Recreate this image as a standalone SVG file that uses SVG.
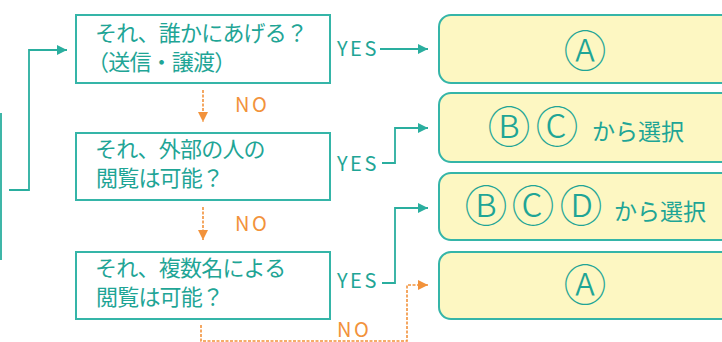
<svg xmlns="http://www.w3.org/2000/svg" width="722" height="342" viewBox="0 0 722 342">
<defs>
<style>
.q{fill:#ffffff;stroke:#35b5a8;stroke-width:2}
.r{fill:#fdf7c2;stroke:#35b5a8;stroke-width:2}
.t{font-family:"Noto Sans CJK JP","Noto Sans",sans-serif;font-size:22px;fill:#1fa596;letter-spacing:-0.8px}
.c{font-family:"Noto Sans CJK JP","DejaVu Sans",sans-serif;font-size:43px;font-weight:300;fill:#1fa596;text-anchor:middle}
.k{font-family:"Noto Sans CJK JP","Noto Sans",sans-serif;font-size:23px;fill:#1fa596}
.y{font-family:"Noto Sans CJK JP","Noto Sans",sans-serif;font-size:20px;fill:#1fa596;letter-spacing:2.5px}
.n{font-family:"Noto Sans CJK JP","Noto Sans",sans-serif;font-size:20px;fill:#f2923b;letter-spacing:2.5px}
.tl{fill:none;stroke:#2aae9f;stroke-width:1.8}
.ol{fill:none;stroke:#f2923b;stroke-width:1.6;stroke-dasharray:3 1.5}
</style>
<marker id="at" markerUnits="userSpaceOnUse" markerWidth="12" markerHeight="12" refX="10" refY="6" orient="auto">
<path d="M0,1 L10,6 L0,11 Z" fill="#2aae9f"/>
</marker>
<marker id="ao" markerUnits="userSpaceOnUse" markerWidth="12" markerHeight="12" refX="10" refY="6" orient="auto">
<path d="M0,1 L10,6 L0,11 Z" fill="#f2923b"/>
</marker>
</defs>
<rect width="722" height="342" fill="#ffffff"/>

<g id="connectors">
<path class="tl" d="M9 190 H29 V50 H67" marker-end="url(#at)"/>
<path class="tl" d="M1 113 V260"/>
<path class="tl" d="M380 49 H428" marker-end="url(#at)"/>
<path class="tl" d="M382 163 H395 V128 H428" marker-end="url(#at)"/>
<path class="tl" d="M382 283 H395 V208 H428" marker-end="url(#at)"/>
<path class="ol" d="M203 90 V122" marker-end="url(#ao)"/>
<path class="ol" d="M203 207 V240" marker-end="url(#ao)"/>
<path class="ol" d="M201 325 V341 H407 V285 H428" marker-end="url(#ao)"/>
<text class="y" x="337" y="56">YES</text>
<text class="y" x="337" y="171">YES</text>
<text class="y" x="337" y="288">YES</text>
<text class="n" x="235" y="112">NO</text>
<text class="n" x="235" y="231">NO</text>
<text class="n" x="337" y="337">NO</text>
</g>

<g id="q1">
<rect class="q" x="76" y="15" width="254" height="68"/>
<text class="t" x="95" y="41">それ、誰かにあげる？</text>
<text class="t" x="87" y="70">（送信・譲渡）</text>
</g>
<g id="q2">
<rect class="q" x="76" y="133" width="254" height="67"/>
<text class="t" x="95" y="157">それ、外部の人の</text>
<text class="t" x="96" y="186">閲覧は可能？</text>
</g>
<g id="q3">
<rect class="q" x="76" y="252" width="254" height="67"/>
<text class="t" x="95" y="276">それ、複数名による</text>
<text class="t" x="96" y="305">閲覧は可能？</text>
</g>

<g id="r1">
<rect class="r" x="439" y="15" width="330" height="68" rx="12"/>
<text class="c" x="585" y="67">Ⓐ</text>
</g>
<g id="r2">
<rect class="r" x="439" y="93" width="330" height="69" rx="12"/>
<text class="c" x="509" y="143">Ⓑ</text>
<text class="c" x="557" y="143">Ⓒ</text>
<text class="k" x="592" y="140">から選択</text>
</g>
<g id="r3">
<rect class="r" x="439" y="173" width="330" height="67" rx="12"/>
<text class="c" x="486" y="222">Ⓑ</text>
<text class="c" x="533" y="222">Ⓒ</text>
<text class="c" x="581" y="222">Ⓓ</text>
<text class="k" x="614" y="220">から選択</text>
</g>
<g id="r4">
<rect class="r" x="439" y="252" width="330" height="67" rx="12"/>
<text class="c" x="585" y="301">Ⓐ</text>
</g>
</svg>
